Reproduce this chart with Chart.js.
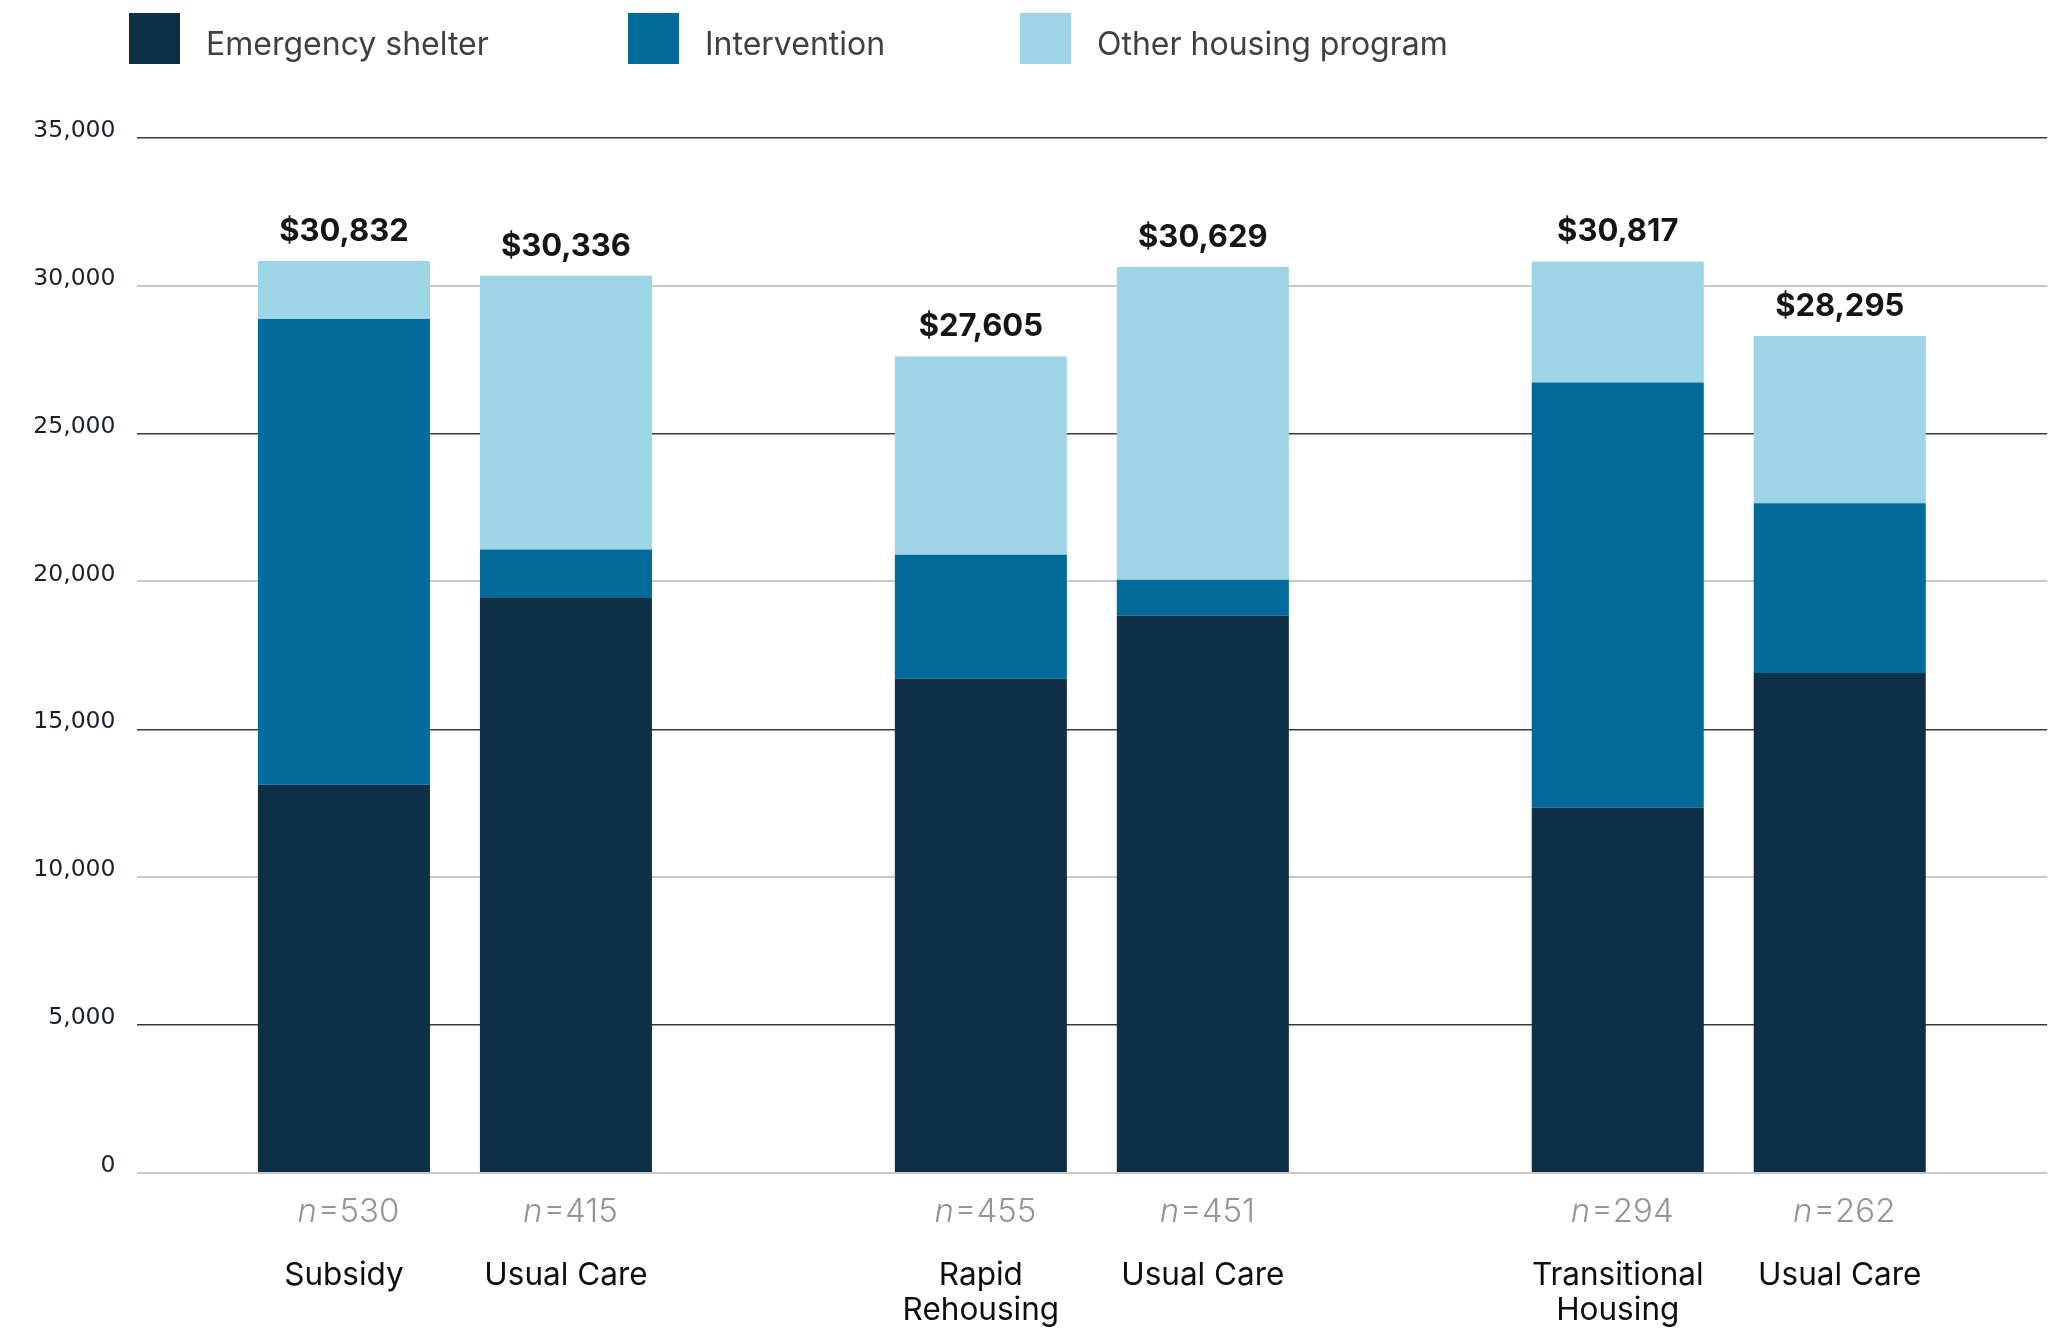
<!DOCTYPE html>
<html>
<head>
<meta charset="utf-8">
<script src="https://cdn.jsdelivr.net/npm/chart.js@4.4.1/dist/chart.umd.min.js"></script>
<style>
  html, body { margin: 0; padding: 0; background: #ffffff; }
  canvas { display: block; }
</style>
</head>
<body>
<canvas id="c" width="2059" height="1332"></canvas>
<script>
// ---- data ----
const groups = ['Subsidy', 'Rapid Rehousing', 'Transitional Housing'];
const barNames = [['Subsidy'], ['Usual Care'], ['Rapid', 'Rehousing'], ['Usual Care'], ['Transitional', 'Housing'], ['Usual Care']];
const sampleSizes = [530, 415, 455, 451, 294, 262];
const totals = [30832, 30336, 27605, 30629, 30817, 28295];
const emergencyShelter = [13124, 19468, 16707, 18847, 12357, 16900];
const intervention = [15751, 1609, 4191, 1206, 14365, 5746];
const otherHousing = [1957, 9259, 6707, 10576, 4095, 5649];
const seriesNames = ['Emergency shelter', 'Intervention', 'Other housing program'];
const yTicks = [0, 5000, 10000, 15000, 20000, 25000, 30000, 35000];

// ---- styles ----
const seriesColors = ['#0e3047', '#006b9b', '#9dd5e6'];
const legendItemX = [129, 628, 1020];
const series = [emergencyShelter, intervention, otherHousing];
const stacks = ['study', 'usual'];

const datasets = [];
stacks.forEach((stack, s) => {
  series.forEach((vals, k) => {
    datasets.push({
      label: seriesNames[k],
      data: vals.filter((_, i) => i % 2 === s),
      backgroundColor: seriesColors[k],
      borderWidth: 0,
      stack: stack,
      categoryPercentage: 0.6971,
      barPercentage: 0.775
    });
  });
});

const fmt = v => v.toLocaleString('en-US');

const topLegend = {
  id: 'topLegend',
  afterDraw(chart) {
    const ctx = chart.ctx;
    ctx.save();
    chart.data.datasets.slice(0, 3).forEach((ds, i) => {
      const x = legendItemX[i];
      ctx.fillStyle = ds.backgroundColor;
      ctx.fillRect(x, 13, 51, 51);
      ctx.fillStyle = '#404040';
      ctx.font = '32px Inter';
      ctx.textAlign = 'left';
      ctx.textBaseline = 'alphabetic';
      ctx.fillText(ds.label, x + 51 + 26, 55);
    });
    ctx.restore();
  }
};

const annotations = {
  id: 'annotations',
  afterDatasetsDraw(chart) {
    const ctx = chart.ctx;
    const bottom = chart.chartArea.bottom;
    ctx.save();
    for (let b = 0; b < totals.length; b++) {
      const g = Math.floor(b / 2), s = b % 2;
      const el = chart.getDatasetMeta(s * 3 + 2).data[g];
      const x = el.x, yTop = el.y;
      // totals
      ctx.font = 'bold 31px Inter';
      ctx.fillStyle = '#151515';
      ctx.textAlign = 'center';
      ctx.textBaseline = 'alphabetic';
      ctx.fillText('$' + fmt(totals[b]), x, yTop - 20);
      // n = ...
      ctx.fillStyle = '#949494';
      ctx.font = 'italic 300 33px Inter';
      const nW = ctx.measureText('n').width;
      ctx.font = '300 33px Inter';
      const rest = '=' + sampleSizes[b];
      const rW = ctx.measureText(rest).width;
      const x0 = x - (nW + rW) / 2 + 4;
      ctx.textAlign = 'left';
      ctx.font = 'italic 300 33px Inter';
      ctx.fillText('n', x0, bottom + 49);
      ctx.font = '300 33px Inter';
      ctx.fillText(rest, x0 + nW + 1, bottom + 49);
      // names
      ctx.fillStyle = '#0d0d0d';
      ctx.font = '31.5px Inter';
      ctx.textAlign = 'center';
      barNames[b].forEach((line, li) => {
        ctx.fillText(line, x, bottom + 112 + li * 35);
      });
    }
    ctx.restore();
  }
};

new Chart(document.getElementById('c'), {
  type: 'bar',
  data: { labels: groups, datasets: datasets },
  plugins: [topLegend, annotations],
  options: {
    responsive: false,
    animation: false,
    layout: { padding: { top: 137.7, left: 0, right: 11.8, bottom: 159 } },
    plugins: {
      legend: { display: false },
      tooltip: { enabled: false }
    },
    scales: {
      x: {
        display: false,
        stacked: true
      },
      y: {
        stacked: true,
        min: 0,
        max: 35000,
        afterFit: s => { s.width = 136.5; },
        afterBuildTicks: s => { s.ticks = yTicks.map(v => ({ value: v })); },
        border: { display: false },
        grid: {
          drawTicks: false,
          color: c => (c.tick && c.tick.value % 10000 === 0) ? '#c8c8c8' : '#3a3a3a',
          lineWidth: c => (c.tick && c.tick.value % 10000 === 0) ? 2 : 1.6
        },
        ticks: {
          padding: 21,
          labelOffset: -7,
          color: '#1a1f2e',
          font: { family: 'DejaVu Sans', size: 23.5 },
          callback: v => fmt(v)
        }
      }
    }
  }
});
</script>
</body>
</html>
